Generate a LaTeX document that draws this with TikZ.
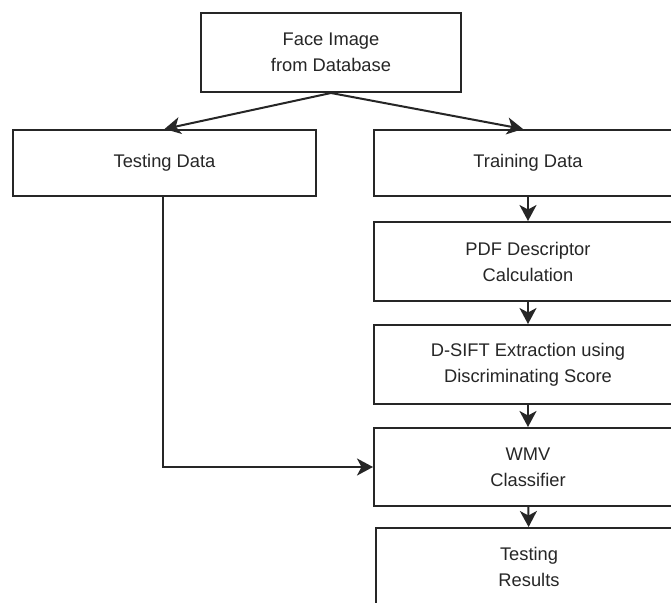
\documentclass[tikz,border=0pt]{standalone}
\usepackage{fontspec}
\setmainfont{Liberation Sans}
\usetikzlibrary{arrows.meta}
\begin{document}
\begin{tikzpicture}[x=1pt,y=-1pt,
  box/.style={draw=black!85,line width=2pt,inner sep=0pt,align=center,
    font=\fontsize{18.3}{26}\selectfont,text=black!85},
  arr/.style={draw=black!85,line width=2pt,-{Stealth[length=16pt,width=17pt,inset=4.5pt]}}]
\useasboundingbox (0,0) rectangle (671,602);
\clip (0,0) rectangle (671,602);
\fill[white] (0,0) rectangle (671,602);
\node[box,minimum width=260pt,minimum height=79pt] (face) at (331,52.5) {Face Image\\from Database};
\node[box,minimum width=303pt,minimum height=66pt] (test) at (164.5,163) {Testing Data};
\node[box,minimum width=308pt,minimum height=66pt] (train) at (528,163) {Training Data};
\node[box,minimum width=308pt,minimum height=79pt] (pdf) at (528,261.5) {PDF Descriptor\\Calculation};
\node[box,minimum width=308pt,minimum height=79pt] (dsift) at (528,364.5) {D-SIFT Extraction using\\Discriminating Score};
\node[box,minimum width=308pt,minimum height=78pt] (wmv) at (528,467) {WMV\\Classifier};
\node[box,minimum width=306pt,minimum height=78pt] (res) at (529,567) {Testing\\Results};
\draw[arr] (face.south) -- (test.north);
\draw[arr] (face.south) -- ([xshift=-5pt]train.north);
\draw[arr] (train) -- (pdf);
\draw[arr] (pdf) -- (dsift);
\draw[arr] (dsift) -- (wmv);
\draw[arr] (wmv) -- (res);
\draw[arr] ([xshift=-2pt]test.south) |- (wmv.west);
\end{tikzpicture}
\end{document}
